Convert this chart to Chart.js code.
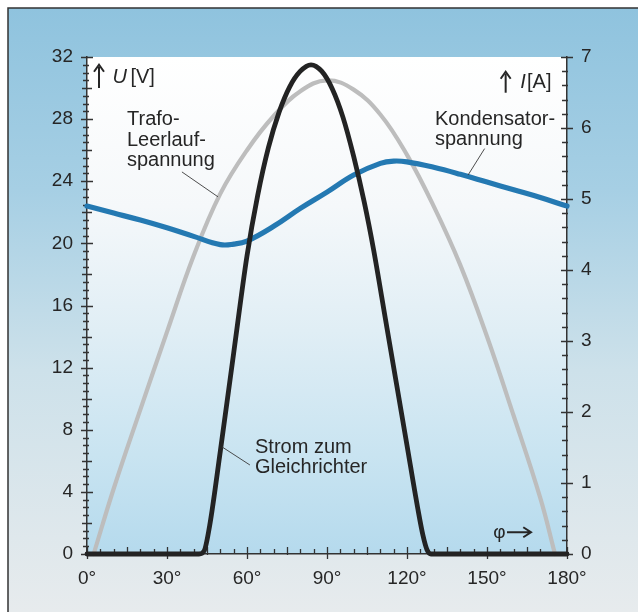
<!DOCTYPE html>
<html lang="de">
<head>
  <meta charset="UTF-8" />
  <title>Gleichrichter mit Ladekondensator</title>
  <style>
    body { margin: 0; padding: 0; background: #fff; }
    #wrap { width: 638px; height: 612px; }
  </style>
</head>
<body>
  <div id="wrap"><canvas id="chart" width="638" height="612"></canvas></div>

  <script src="https://cdn.jsdelivr.net/npm/chart.js"></script>
  <script>
    // Winkel in Grad
    const phiTrafo = [2.5, 10, 20, 30, 40, 50, 60, 70, 80, 90, 100, 110, 120, 130, 140, 150, 160, 170, 175.5];
    const uTrafo   = [0, 4.2, 9.3, 14.3, 19.2, 23.2, 26.0, 28.2, 29.8, 30.5, 29.9, 28.3, 25.7, 22.4, 18.6, 14.0, 8.9, 3.6, 0];

    const phiKond = [0, 10, 20, 30, 40, 50, 55, 60, 70, 80, 90, 100, 110, 115, 120, 130, 140, 150, 160, 170, 180];
    const uKond   = [22.4, 21.95, 21.5, 21.0, 20.45, 19.92, 19.95, 20.15, 21.1, 22.25, 23.3, 24.4, 25.15, 25.3, 25.25, 24.9, 24.45, 23.95, 23.45, 22.95, 22.4];

    const phiStrom = [0, 42, 44, 46, 50, 55, 60, 64, 68, 72, 76, 80, 84, 88, 92, 96, 100, 104, 107.5, 112, 116, 120, 124, 126, 127.5, 129, 180];
    const iStrom   = [0, 0, 0.05, 0.4, 1.45, 2.83, 4.2, 5.05, 5.72, 6.22, 6.58, 6.8, 6.89, 6.8, 6.55, 6.15, 5.6, 4.95, 4.28, 3.29, 2.41, 1.53, 0.65, 0.26, 0.06, 0, 0];

    // Achsen
    const phiTicks = [0, 30, 60, 90, 120, 150, 180];
    const uTicks = [0, 4, 8, 12, 16, 20, 24, 28, 32];
    const iTicks = [0, 1, 2, 3, 4, 5, 6, 7];

    const FONT = "'Liberation Sans', Arial, Helvetica, sans-serif";
    const TXT = '#262626';

    function pts(xs, ys) {
      return xs.map((x, i) => ({ x: x, y: ys[i] }));
    }

    // Hintergrund: Rahmen, blauer Verlauf, Diagrammfläche
    const backdrop = {
      id: 'backdrop',
      beforeDraw(chart) {
        const ctx = chart.ctx;
        const a = chart.chartArea;
        ctx.save();
        ctx.fillStyle = '#ffffff';
        ctx.fillRect(0, 0, chart.width, chart.height);
        const g = ctx.createLinearGradient(0, 8, 0, chart.height);
        g.addColorStop(0, '#8fc3de');
        g.addColorStop(0.3, '#a6cfe4');
        g.addColorStop(0.6, '#cde1ea');
        g.addColorStop(1, '#e7ebed');
        ctx.fillStyle = g;
        ctx.fillRect(8, 8, chart.width - 8, chart.height - 8);
        ctx.strokeStyle = '#333';
        ctx.lineWidth = 1.5;
        ctx.beginPath();
        ctx.moveTo(8, chart.height);
        ctx.lineTo(8, 8);
        ctx.lineTo(chart.width, 8);
        ctx.stroke();

        const p = ctx.createLinearGradient(0, a.top, 0, a.bottom);
        p.addColorStop(0, '#ffffff');
        p.addColorStop(0.3, '#f5f8fa');
        p.addColorStop(0.55, '#e0eef5');
        p.addColorStop(0.8, '#c9e4f1');
        p.addColorStop(1, '#b5daed');
        ctx.fillStyle = p;
        ctx.fillRect(a.left, a.top, a.right - a.left, a.bottom - a.top);
        ctx.restore();
      }
    };

    // Teilstriche an allen drei Achsen
    const tickMarks = {
      id: 'tickMarks',
      beforeDatasetsDraw(chart) {
        const ctx = chart.ctx;
        const sx = chart.scales.x, sy = chart.scales.y, si = chart.scales.y1;
        const a = chart.chartArea;
        ctx.save();
        ctx.strokeStyle = '#333';
        ctx.lineWidth = 1.3;
        ctx.beginPath();
        for (let v = 0; v <= 32.001; v += 0.5) {
          const y = Math.round(sy.getPixelForValue(v)) + 0.5;
          let l = 4, r = 2;
          if (Math.abs(v % 4) < 0.01) { l = 6; r = 6; }
          else if (Math.abs(v % 2) < 0.01) { l = 5; r = 5; }
          ctx.moveTo(a.left - l, y); ctx.lineTo(a.left + r, y);
        }
        for (let k = 0; k <= 35; k++) {
          const v = k * 0.2;
          const y = Math.round(si.getPixelForValue(v)) + 0.5;
          let l = 5, r = 1;
          if (k % 5 === 0) { l = 6; r = 6; }
          ctx.moveTo(a.right - l, y); ctx.lineTo(a.right + r, y);
        }
        for (let v = 0; v <= 180; v += 5) {
          const x = Math.round(sx.getPixelForValue(v)) + 0.5;
          let up = 5, dn = 0;
          if (v % 30 === 0) { up = 7; dn = 5; }
          else if (v % 15 === 0) { up = 7; dn = 1; }
          ctx.moveTo(x, a.bottom - up); ctx.lineTo(x, a.bottom + dn);
        }
        ctx.stroke();
        ctx.restore();
      }
    };

    function arrowUp(ctx, x, y0, y1) {
      ctx.beginPath();
      ctx.moveTo(x, y1); ctx.lineTo(x, y0 + 2);
      ctx.stroke();
      ctx.beginPath();
      ctx.moveTo(x - 5, y0 + 7); ctx.lineTo(x, y0); ctx.lineTo(x + 5, y0 + 7);
      ctx.stroke();
    }

    // Beschriftungen im Diagramm
    const notes = {
      id: 'notes',
      afterDatasetsDraw(chart) {
        const ctx = chart.ctx;
        const X = v => chart.scales.x.getPixelForValue(v);
        const Y = v => chart.scales.y.getPixelForValue(v);
        ctx.save();
        ctx.fillStyle = TXT;
        ctx.strokeStyle = TXT;
        ctx.textBaseline = 'alphabetic';
        ctx.textAlign = 'left';
        ctx.font = '20px ' + FONT;

        const lines = (txt, x, y, lh) => txt.forEach((t, i) => ctx.fillText(t, x, y + i * lh));
        lines(['Trafo-', 'Leerlauf-', 'spannung'], X(15), Y(27.6), 20.5);
        lines(['Kondensator-', 'spannung'], X(130.5), Y(27.6), 20);
        lines(['Strom zum', 'Gleichrichter'], X(63), Y(6.5), 20);

        // Hinweislinien
        ctx.lineWidth = 0.9;
        ctx.strokeStyle = '#3a3a3a';
        ctx.beginPath();
        ctx.moveTo(X(35.6), Y(24.6)); ctx.lineTo(X(49.1), Y(23.0));
        ctx.moveTo(X(149.1), Y(26.1)); ctx.lineTo(X(142.9), Y(24.4));
        ctx.moveTo(X(50.6), Y(6.9)); ctx.lineTo(X(61.1), Y(5.73));
        ctx.stroke();

        // Achsentitel
        ctx.strokeStyle = TXT;
        ctx.lineWidth = 2;
        arrowUp(ctx, X(4.5), Y(31.5), Y(30.0));
        ctx.font = 'italic 20px ' + FONT;
        ctx.fillText('U', X(9.6), Y(30.3));
        ctx.font = '20px ' + FONT;
        ctx.fillText('[V]', X(16.3), Y(30.3));

        arrowUp(ctx, X(157), Y(31.05), Y(29.7));
        ctx.font = 'italic 20px ' + FONT;
        ctx.fillText('I', X(162.5), Y(30.0));
        ctx.font = '20px ' + FONT;
        ctx.fillText('[A]', X(165), Y(30.0));

        // φ →
        ctx.font = '19px ' + FONT;
        ctx.fillText('φ', X(152.3), Y(1.05));
        ctx.lineWidth = 2;
        ctx.beginPath();
        ctx.moveTo(X(157.5), Y(1.4)); ctx.lineTo(X(166.5), Y(1.4));
        ctx.moveTo(X(163.6), Y(1.4) - 5); ctx.lineTo(X(166.5), Y(1.4)); ctx.lineTo(X(163.6), Y(1.4) + 5);
        ctx.stroke();
        ctx.restore();
      }
    };

    const lineBase = {
      pointRadius: 0,
      fill: false,
      borderCapStyle: 'round',
      borderJoinStyle: 'round',
      clip: false
    };

    new Chart(document.getElementById('chart'), {
      type: 'line',
      data: {
        datasets: [
          Object.assign({}, lineBase, {
            label: 'Strom zum Gleichrichter',
            data: pts(phiStrom, iStrom),
            yAxisID: 'y1',
            cubicInterpolationMode: 'monotone',
            borderColor: '#232323',
            borderWidth: 4.8
          }),
          Object.assign({}, lineBase, {
            label: 'Kondensatorspannung',
            data: pts(phiKond, uKond),
            yAxisID: 'y',
            tension: 0.4,
            borderColor: '#2479b2',
            borderWidth: 5.2
          }),
          Object.assign({}, lineBase, {
            label: 'Trafo-Leerlaufspannung',
            data: pts(phiTrafo, uTrafo),
            yAxisID: 'y',
            tension: 0.4,
            borderColor: '#bdbdbd',
            borderWidth: 4.2
          })
        ]
      },
      options: {
        responsive: false,
        animation: false,
        events: [],
        layout: { padding: { top: 57, left: 0, right: 0, bottom: 0 } },
        plugins: {
          legend: { display: false },
          tooltip: { enabled: false }
        },
        scales: {
          x: {
            type: 'linear',
            min: 0, max: 180,
            afterBuildTicks: s => { s.ticks = phiTicks.map(v => ({ value: v })); },
            afterFit: s => { s.height = 58; },
            grid: { display: false, drawTicks: false },
            border: { display: true, color: '#333', width: 1.5 },
            ticks: {
              padding: 13,
              color: TXT,
              font: { family: FONT, size: 19 },
              maxRotation: 0,
              callback: v => v + '°'
            }
          },
          y: {
            type: 'linear',
            position: 'left',
            min: 0, max: 32,
            afterBuildTicks: s => { s.ticks = uTicks.map(v => ({ value: v })); },
            afterFit: s => { s.width = 87; },
            grid: { display: false, drawTicks: false },
            border: { display: true, color: '#333', width: 1.5 },
            ticks: {
              padding: 14,
              color: TXT,
              font: { family: FONT, size: 19 }
            }
          },
          y1: {
            type: 'linear',
            position: 'right',
            min: 0, max: 7,
            afterBuildTicks: s => { s.ticks = iTicks.map(v => ({ value: v })); },
            afterFit: s => { s.width = 71; },
            grid: { display: false, drawTicks: false },
            border: { display: true, color: '#333', width: 1.5 },
            ticks: {
              padding: 14,
              color: TXT,
              font: { family: FONT, size: 19 }
            }
          }
        }
      },
      plugins: [backdrop, tickMarks, notes]
    });
  </script>
</body>
</html>
